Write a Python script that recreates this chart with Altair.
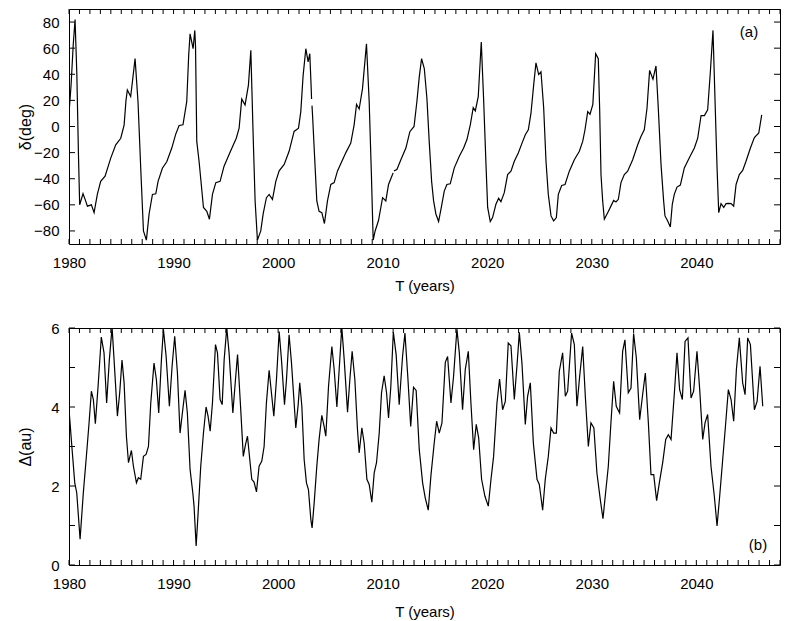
import altair as alt
import pandas as pd

# ---- data ----
# declination delta (deg); None marks a break in the curve
dec_years = [
    1980.0, 1980.2, 1980.4, 1980.58, 1980.75, 1980.9, 1981.02, 1981.34, 1981.55, 1981.76,
    1982.14, 1982.4, 1982.71, 1983.03, 1983.45, 1984.0, 1984.47, 1984.95, 1985.27, 1985.45,
    1985.58, 1985.9, 1986.32, 1986.6, 1986.86, 1987.12, 1987.4, 1987.66, 1987.98, 1988.3,
    1988.52, 1988.93, 1989.35, 1989.83, 1990.2, 1990.53, 1990.9, 1991.26, 1991.45, 1991.58,
    1991.87, 1992.03, 1992.1, 1992.22, 1992.44, 1992.86, 1993.18, 1993.43, 1993.72, 1994.04,
    1994.45, 1994.83, 1995.3, 1995.72, 1996.0, 1996.27, 1996.52, 1996.84, 1997.16, 1997.39,
    1997.61, 1997.8, 1998.02, 1998.34, 1998.57, 1998.88, 1999.14, 1999.46, 1999.78, 2000.1,
    2000.58, 2001.05, 2001.53, 2001.95, 2002.17, 2002.39, 2002.65, 2002.87, 2003.03, 2003.16,
    2003.2,
    2003.22,
    2003.24, 2003.29, 2003.48, 2003.7, 2003.92, 2004.18, 2004.43, 2004.72, 2005.04, 2005.36,
    2005.68, 2006.1, 2006.48, 2006.95, 2007.27, 2007.5, 2007.75, 2008.07, 2008.45, 2008.71,
    2008.93, 2009.09, 2009.28, 2009.6, 2009.99, 2010.3, 2010.56, 2010.94, 2011.0,
    2011.03,
    2011.08, 2011.36, 2011.74, 2012.22, 2012.6, 2013.0, 2013.27, 2013.5, 2013.72, 2013.98,
    2014.23, 2014.45, 2014.68, 2014.87, 2015.09, 2015.35, 2015.63, 2015.89, 2016.14, 2016.46,
    2016.85, 2017.33, 2017.74, 2018.06, 2018.38, 2018.66, 2018.86, 2019.14, 2019.43, 2019.65,
    2019.88, 2020.04, 2020.29, 2020.51, 2020.83, 2021.09, 2021.31, 2021.63, 2021.95, 2022.27,
    2022.59, 2022.97, 2023.39, 2023.64, 2023.93, 2024.18, 2024.44, 2024.66, 2024.92, 2025.14,
    2025.4, 2025.62, 2025.84, 2026.1, 2026.35, 2026.61, 2026.8, 2027.12, 2027.44, 2027.85,
    2028.33, 2028.81, 2029.13, 2029.35, 2029.61, 2029.83, 2030.1, 2030.37, 2030.62, 2030.75,
    2030.88, 2031.04, 2031.2, 2031.52, 2031.83, 2032.09, 2032.31, 2032.54, 2032.79, 2033.11,
    2033.43, 2033.91, 2034.39, 2034.7, 2035.02, 2035.28, 2035.53, 2035.85, 2036.14, 2036.36,
    2036.62, 2036.87, 2037.0, 2037.26, 2037.51, 2037.7, 2037.89, 2038.15, 2038.47, 2038.85,
    2039.33, 2039.81, 2040.13, 2040.45, 2040.77, 2041.08, 2041.34, 2041.59, 2041.79, 2041.98,
    2042.14, 2042.36, 2042.62, 2042.84, 2043.06, 2043.32, 2043.57, 2043.8, 2044.11, 2044.43,
    2044.75, 2045.17, 2045.55, 2045.97, 2046.25,
]
dec_values = [
    10, 32, 62, 82, 40, -20, -60, -51.5, -56, -61,
    -60, -66, -52, -42, -38, -24, -14, -9, 1, 20,
    28, 23, 52, 19, -32, -80, -87, -67, -52, -51.5,
    -42, -32, -27, -16.5, -6, 0.8, 1.3, 19, 55, 71,
    59.6, 73.6, 62, -11.4, -26.6, -62, -65, -71, -52, -43,
    -42, -30.4, -21.6, -14, -9, -1.3, 21, 16.5, 31.7, 58.3,
    -6.3, -57, -87, -80, -67, -54.5, -52, -55.8, -42, -34,
    -29, -19, -3.8, -1.3, 11.4, 39, 59.6, 49.5, 55.8, 30,
    21,
    None,
    16, 9, -21.6, -57, -65, -66, -74.3, -57, -44.4, -43,
    -34, -26.6, -20, -12.7, 1.3, 17, 13.4, 29, 63.4, 19,
    -39, -87, -80, -72, -54.5, -57, -44.4, -36.8, -35.5,
    None,
    -34, -33, -25.4, -16.5, -4, 0, 19, 38, 52, 44.4,
    21.6, -11.4, -42, -57, -67, -72.8, -61, -49.5, -44.4, -43.9,
    -31.7, -22.8, -16.5, -10, 1.3, 14.5, 12, 22.8, 64.7, 21.6,
    -29, -62, -72.8, -69.8, -59.6, -55, -57.6, -50.7, -36.8, -34.2,
    -26.6, -20.3, -11.4, -6.3, -2.5, 10, 31.7, 48.7, 39.8, 41.9,
    14, -26.6, -52, -68.5, -72.3, -69.8, -52, -45.2, -44.4, -34.2,
    -25.4, -19, -11.4, -2.5, 11.4, 9.4, 17, 55.8, 52, 14,
    -36.8, -57, -71, -66, -61, -56.6, -57.8, -55.8, -43, -36.8,
    -34.2, -25.4, -14, -7.6, -2.5, 14, 43, 36.3, 46.4, 14,
    -29, -57, -68.5, -72.3, -76.9, -59.6, -52, -46.4, -44.9, -31.7,
    -24, -16.5, -8.9, 8.4, 8.4, 12.7, 41.9, 73.6, 19, -31.7,
    -66, -59.1, -62, -59.1, -58.9, -59.1, -61, -44.4, -36.8, -33.7,
    -26.6, -16.5, -8.4, -5, 8.9,
]

# geocentric distance Delta (au)
dist_years = [
    1980.0, 1980.32, 1980.55, 1980.74, 1981.06, 1981.37, 1981.69, 1981.92, 1982.14, 1982.33,
    1982.52, 1982.78, 1983.09, 1983.35, 1983.6, 1983.86, 1984.12, 1984.31, 1984.63, 1984.85,
    1985.07, 1985.27, 1985.49, 1985.69, 1985.97, 1986.16, 1986.45, 1986.64, 1986.86, 1987.12,
    1987.37, 1987.6, 1987.82, 1988.13, 1988.36, 1988.58, 1988.84, 1989.03, 1989.29, 1989.6,
    1989.86, 1990.11, 1990.37, 1990.62, 1990.88, 1991.1, 1991.32, 1991.58, 1991.84, 1991.96,
    1992.16, 1992.35, 1992.6, 1992.86, 1993.11, 1993.3, 1993.5, 1993.72, 1994.01, 1994.2,
    1994.45, 1994.65, 1994.84, 1995.09, 1995.31, 1995.67, 1995.92, 1996.12, 1996.4, 1996.67,
    1996.88, 1997.07, 1997.29, 1997.48, 1997.7, 1997.93, 1998.18, 1998.44, 1998.66, 1998.88,
    1999.14, 1999.36, 1999.59, 1999.84, 2000.1, 2000.32, 2000.61, 2000.8, 2001.05, 2001.28,
    2001.69, 2001.92, 2002.07, 2002.27, 2002.49, 2002.71, 2002.9, 2003.13, 2003.25, 2003.45,
    2003.7, 2003.92, 2004.18, 2004.4, 2004.56, 2004.82, 2005.14, 2005.36, 2005.62, 2005.84,
    2006.09, 2006.32, 2006.64, 2006.86, 2007.08, 2007.34, 2007.59, 2007.75, 2008.01, 2008.23,
    2008.49, 2008.71, 2008.96, 2009.19, 2009.41, 2009.67, 2009.89, 2010.14, 2010.37, 2010.56,
    2010.78, 2011.02, 2011.29, 2011.58, 2011.9, 2012.13, 2012.4, 2012.68, 2012.95, 2013.2,
    2013.5, 2013.82, 2014.07, 2014.36, 2014.61, 2014.93, 2015.16, 2015.41, 2015.67, 2015.99,
    2016.21, 2016.53, 2016.78, 2017.1, 2017.33, 2017.64, 2017.9, 2018.19, 2018.44, 2018.7,
    2018.95, 2019.18, 2019.46, 2019.78, 2020.1, 2020.36, 2020.61, 2020.93, 2021.18, 2021.47,
    2021.73, 2022.01, 2022.27, 2022.59, 2022.84, 2023.07, 2023.32, 2023.64, 2023.86, 2024.12,
    2024.41, 2024.76, 2024.98, 2025.3, 2025.55, 2025.84, 2026.1, 2026.35, 2026.61, 2026.89,
    2027.21, 2027.47, 2027.69, 2028.07, 2028.33, 2028.58, 2028.84, 2029.13, 2029.38, 2029.67,
    2029.92, 2030.2, 2030.49, 2030.81, 2031.07, 2031.32, 2031.58, 2031.83, 2032.09, 2032.34,
    2032.66, 2032.95, 2033.17, 2033.49, 2033.75, 2034.0, 2034.26, 2034.58, 2034.86, 2035.12,
    2035.41, 2035.66, 2035.92, 2036.2, 2036.46, 2036.78, 2037.07, 2037.32, 2037.58, 2037.9,
    2038.15, 2038.4, 2038.66, 2038.92, 2039.2, 2039.49, 2039.74, 2040.06, 2040.32, 2040.61,
    2040.83, 2041.08, 2041.4, 2041.72, 2041.98, 2042.23, 2042.52, 2042.77, 2043.06, 2043.32,
    2043.57, 2043.83, 2044.11, 2044.43, 2044.66, 2044.91, 2045.17, 2045.55, 2045.81, 2046.09,
    2046.35,
]
dist_values = [
    3.94, 2.84, 2.08, 1.83, 0.65, 1.83, 2.84, 3.6, 4.4, 4.19,
    3.58, 4.52, 5.77, 5.37, 4.1, 5.2, 6.02, 5.2, 3.77, 4.36,
    5.19, 4.61, 3.26, 2.59, 2.9, 2.5, 2.08, 2.21, 2.17, 2.75,
    2.8, 3.0, 4.1, 5.11, 4.69, 3.85, 5.2, 5.97, 5.28, 4.02,
    5.03, 5.79, 4.86, 3.34, 3.93, 4.42, 3.85, 2.42, 1.83, 1.49,
    0.48, 1.32, 2.5, 3.34, 4.0, 3.77, 3.39, 4.1, 5.58, 5.37,
    4.19, 4.06, 5.2, 6.0, 5.37, 3.85, 4.69, 5.33, 4.05, 2.75,
    3.05, 3.26, 2.67, 2.17, 2.1, 1.85, 2.5, 2.63, 3.0, 4.1,
    4.93, 4.36, 3.77, 4.69, 5.91, 5.2, 4.06, 4.69, 5.83, 5.11,
    3.47, 4.06, 4.61, 4.02, 2.67, 2.08, 1.91, 1.15, 0.94, 1.58,
    2.5, 3.18, 3.79, 3.51, 3.26, 4.52, 5.53, 4.95, 4.0, 4.95,
    6.02, 5.2, 3.87, 4.69, 5.41, 4.69, 3.43, 2.84, 3.47, 3.09,
    2.17, 2.04, 1.59, 2.33, 2.59, 3.34, 4.36, 4.79, 4.36, 3.72,
    4.52, 5.9, 5.32, 4.06, 5.28, 5.87, 4.78, 3.51, 4.5, 4.42,
    2.92, 2.08, 1.7, 1.39, 2.25, 3.09, 3.64, 3.34, 3.6, 5.13,
    5.28, 4.1, 4.78, 5.97, 5.37, 3.93, 4.95, 5.41, 4.1, 2.92,
    3.56, 3.22, 2.17, 1.74, 1.49, 2.17, 2.75, 4.1, 4.71, 3.93,
    4.14, 5.62, 5.55, 4.19, 5.03, 5.89, 5.11, 3.56, 4.27, 4.61,
    3.09, 2.17, 2.04, 1.39, 2.17, 2.75, 3.47, 3.34, 3.34, 4.9,
    5.37, 4.27, 4.4, 5.87, 5.58, 4.02, 4.78, 5.53, 4.27, 3.0,
    3.6, 3.47, 2.33, 1.66, 1.17, 1.83, 2.5, 3.6, 4.65, 4.02,
    3.85, 5.41, 5.7, 4.36, 4.48, 5.86, 5.24, 3.68, 4.31, 4.86,
    3.6, 2.29, 2.29, 1.63, 2.08, 2.59, 3.18, 3.3, 3.18, 4.36,
    5.37, 4.44, 4.19, 5.66, 5.75, 4.23, 4.4, 5.41, 4.44, 3.18,
    3.6, 3.81, 2.5, 1.74, 0.99, 1.74, 2.67, 3.47, 4.44, 4.19,
    3.64, 4.95, 5.75, 4.61, 4.31, 5.75, 5.58, 3.93, 4.14, 5.03,
    4.02,
]

# axis values
x_label_years = [1980, 1990, 2000, 2010, 2020, 2030, 2040]
x_minor_years = list(range(1980, 2049))
dec_label_values = [-80, -60, -40, -20, 0, 20, 40, 60, 80]
dist_label_values = [0, 2, 4, 6]
dist_tick_values = [0, 1, 2, 3, 4, 5, 6]

FONT = "Liberation Sans"
W = 711
H1 = 235
H2 = 237
TICK = 5


def to_frame(years, values):
    rows = []
    seg = 0
    for yr, v in zip(years, values):
        if v is None:
            seg += 1
            continue
        rows.append({"year": yr, "val": v, "seg": seg})
    return pd.DataFrame(rows)


xscale = alt.Scale(domain=[1980, 2048], nice=False, zero=False)


def panel(df, ydomain, ylabels, yticks, ytitle, H, tag, tag_x, tag_y, tpad):
    yscale = alt.Scale(domain=ydomain, nice=False, zero=False)
    xaxis = alt.Axis(values=x_label_years, format="d", ticks=False, domain=False,
                     grid=False, labelFont=FONT, labelFontSize=15, labelColor="black",
                     labelPadding=11, title="T (years)", titleFont=FONT,
                     titleFontSize=15, titleFontWeight="normal", titleColor="black",
                     titlePadding=tpad, labelFlush=False)
    yaxis = alt.Axis(values=ylabels, ticks=False, domain=False, grid=False,
                     labelFont=FONT, labelFontSize=15, labelColor="black",
                     labelPadding=10, title=ytitle, titleFont=FONT, titleFontSize=16,
                     titleFontWeight="normal", titleColor="black",
                     titleX=-36, titleY=H / 2, labelFlush=False)
    X = alt.X("year:Q", scale=xscale, axis=xaxis, title="T (years)")
    line = alt.Chart(df).mark_line(color="black", strokeWidth=1.2, clip=True).encode(
        x=X,
        y=alt.Y("val:Q", scale=yscale, axis=yaxis, title=ytitle),
        detail="seg:N",
    )
    xt = pd.DataFrame({"year": x_minor_years})
    xb = alt.Chart(xt).mark_rule(color="black", strokeWidth=1).encode(
        x=X, y=alt.value(H), y2=alt.value(H - TICK))
    xtop = alt.Chart(xt).mark_rule(color="black", strokeWidth=1).encode(
        x=X, y=alt.value(0), y2=alt.value(TICK))
    yt = pd.DataFrame({"val": yticks})
    Y = alt.Y("val:Q", scale=yscale, axis=yaxis, title=ytitle)
    yl = alt.Chart(yt).mark_rule(color="black", strokeWidth=1).encode(
        y=Y, x=alt.value(0), x2=alt.value(TICK + 1))
    yr = alt.Chart(yt).mark_rule(color="black", strokeWidth=1).encode(
        y=Y, x=alt.value(W - TICK - 1), x2=alt.value(W))
    txt = alt.Chart(pd.DataFrame({"t": [tag]})).mark_text(
        font=FONT, fontSize=15, color="black", align="center", baseline="middle"
    ).encode(text="t:N", x=alt.value(tag_x), y=alt.value(tag_y))
    return alt.layer(line, xb, xtop, yl, yr, txt).properties(width=W, height=H)


top = panel(to_frame(dec_years, dec_values), [-90, 90], dec_label_values,
            dec_label_values, "δ(deg)", H1, "(a)", 680, 23, 8)
bottom = panel(to_frame(dist_years, dist_values), [0, 6], dist_label_values,
               dist_tick_values, "Δ(au)", H2, "(b)", 689, 217, 13)

chart = alt.vconcat(top, bottom, spacing=26).properties(
    padding={"left": 8, "top": 0, "right": 5, "bottom": 5}
).configure_view(stroke="black", strokeWidth=1)

chart.save("out.html", embed_options={"renderer": "svg", "actions": False})
